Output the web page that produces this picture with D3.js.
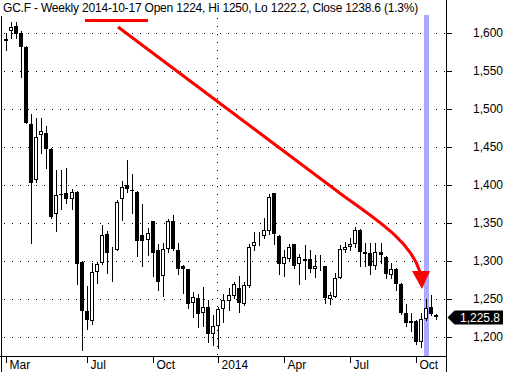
<!DOCTYPE html>
<html>
<head>
<meta charset="utf-8">
<script src="https://cdn.jsdelivr.net/npm/d3@7"></script>
<style>
  body { margin: 0; background: #fff; }
  svg { display: block; font-family: "Liberation Sans", Arial, sans-serif; }
</style>
</head>
<body>
<div id="chart"></div>
<script>
// weekly GC.F candles, Mar 15 2013 .. Oct 31 2014
const open  = [1592,1602,1609,1600,1582,1480,1406,1466,1469,1448,1362,1388,1390,1381,1391,1299,1234,1221,1285,1298,
               1335,1312,1315,1381,1400,1394,1391,1334,1328,1352,1314,1280,1316,1352,1315,1294,1289,1245,1251,1231,
               1239,1204,1215,1237,1248,1254,1265,1244,1267,1320,1326,1333,1340,1389,1333,1296,1303,1322,1296,1303,
               1302,1289,1294,1293,1250,1253,1278,1315,1318,1322,1341,1312,1311,1294,1312,1305,1281,1290,1270,1231,
               1218,1221,1193,1224,1239.5,1229.5];
const high  = [1600,1614,1614,1602,1583,1494,1488,1488,1478,1449,1420,1420,1422,1395,1392,1300,1267,1297,1299,1347,
               1339,1319,1380,1405,1433,1415,1392,1375,1344,1353,1322,1324,1355,1361,1324,1295,1290,1259,1257,1266,
               1249,1229,1240,1257,1264,1272,1280,1272,1322,1338,1338,1356,1388,1390,1334,1314,1322,1323,1309,1321,
               1314,1308,1308,1294,1259,1284,1321,1325,1330,1345,1342,1324,1324,1324,1324,1306,1297,1291,1271,1243,
               1231,1222,1231,1250,1255,1230];
const low   = [1577,1593,1593,1542,1481,1324,1404,1442,1422,1356,1340,1369,1376,1368,1270,1183,1210,1217,1271,1296,
               1284,1274,1314,1354,1391,1363,1306,1293,1308,1280,1262,1254,1312,1314,1283,1258,1238,1226,1213,1215,
               1193,1189,1185,1220,1235,1251,1233,1242,1266,1314,1321,1330,1336,1323,1283,1280,1300,1291,1270,1276,
               1286,1279,1288,1245,1244,1252,1277,1312,1315,1319,1294,1294,1283,1290,1297,1277,1278,1262,1230,1215,
               1208,1191,1187,1222.2,1229,1224];
const close = [1590,1608,1599,1581,1482,1403,1463,1471,1447,1358,1387,1387,1381,1391,1296,1234,1222,1285,1296,1334,
               1311,1313,1378,1398,1395,1393,1326,1326,1337,1311,1272,1316,1352,1316,1289,1290,1244,1252,1230,1239,
               1204,1214,1237,1249,1255,1270,1245,1268,1319,1325,1327,1341,1384,1336,1296,1305,1319,1294,1305,1300,
               1289,1294,1295,1251,1255,1278,1316,1319,1322,1341,1312,1309,1294,1312,1308,1283,1289,1270,1231,1218,
               1221,1193,1224,1238.6,1230,1225.8];

const weeks = d3.utcFriday.range(new Date(Date.UTC(2013, 2, 15)), new Date(Date.UTC(2014, 10, 1)));
const tickDates = ['2013-03-15', '2013-07-05', '2013-10-04', '2014-01-03', '2014-04-04', '2014-07-04', '2014-10-03'];
const tickLabels = ['Mar', 'Jul', 'Oct', '2014', 'Apr', 'Jul', 'Oct'];
const yTicks = [1200, 1250, 1300, 1350, 1400, 1450, 1500, 1550, 1600];
const title = 'GC.F - Weekly 2014-10-17 Open 1224, Hi 1250, Lo 1222.2, Close 1238.6 (1.3%)';
const cursorDate = '2014-10-17';

const width = 508;
const height = 372;
const plot = { left: 1.5, right: 446.5, bottom: 356.5 };

const svg = d3.select('#chart')
  .append('svg')
  .attr('width', width)
  .attr('height', height)
  .attr('shape-rendering', 'crispEdges');

const x = d3.scaleBand()
  .domain(weeks.map(d => +d))
  .range([3.17, 3.17 + weeks.length * 5.065]);

const y = d3.scaleLinear()
  .domain([1200, 1600])
  .range([337, 33]);

const cx = d => Math.round(x(+d) + x.bandwidth() / 2);

// dotted grid
svg.append('g')
  .selectAll('line')
  .data(yTicks)
  .join('line')
    .attr('x1', 4).attr('x2', plot.right - 1)
    .attr('y1', d => y(d) + 0.5).attr('y2', d => y(d) + 0.5)
    .attr('stroke', '#000')
    .attr('stroke-dasharray', '1,7');

const yearLine = cx(new Date('2014-01-03')) - 0.5;
svg.append('line')
  .attr('x1', yearLine).attr('x2', yearLine)
  .attr('y1', 18).attr('y2', plot.bottom)
  .attr('stroke', '#000')
  .attr('stroke-dasharray', '1,7');

// crosshair at the selected week
const cur = cx(new Date(cursorDate));
svg.append('rect')
  .attr('x', cur - 2).attr('y', 15)
  .attr('width', 5).attr('height', plot.bottom - 15)
  .attr('fill', '#a9a9ff');

// frame lines
svg.append('line')
  .attr('x1', plot.left).attr('x2', plot.left)
  .attr('y1', 16).attr('y2', height)
  .attr('stroke', '#000');
svg.append('line')
  .attr('x1', 0).attr('x2', plot.right)
  .attr('y1', plot.bottom).attr('y2', plot.bottom)
  .attr('stroke', '#000');
svg.append('line')
  .attr('x1', plot.right).attr('x2', plot.right)
  .attr('y1', 0).attr('y2', height)
  .attr('stroke', '#000');

// candles
const candles = weeks.map((d, i) => ({ d, o: open[i], h: high[i], l: low[i], c: close[i] }));

const g = svg.append('g');
g.selectAll('line.wick')
  .data(candles)
  .join('line')
    .attr('class', 'wick')
    .attr('x1', d => cx(d.d) + 0.5).attr('x2', d => cx(d.d) + 0.5)
    .attr('y1', d => Math.round(y(d.h))).attr('y2', d => Math.round(y(d.l)) + 1)
    .attr('stroke', '#000');

g.selectAll('rect.down')
  .data(candles.filter(d => d.c < d.o))
  .join('rect')
    .attr('class', 'down')
    .attr('x', d => cx(d.d) - 2)
    .attr('y', d => Math.round(y(d.o)))
    .attr('width', 4)
    .attr('height', d => Math.max(1, Math.round(y(d.c)) - Math.round(y(d.o))))
    .attr('fill', '#000');

g.selectAll('rect.up')
  .data(candles.filter(d => d.c >= d.o))
  .join('rect')
    .attr('class', 'up')
    .attr('x', d => cx(d.d) - 1.5)
    .attr('y', d => Math.round(y(d.c)) + 0.5)
    .attr('width', 3)
    .attr('height', d => Math.max(0, Math.round(y(d.o)) - Math.round(y(d.c)) - 1))
    .attr('fill', '#fff')
    .attr('stroke', '#000');

// right axis
const yAxis = svg.append('g')
  .attr('transform', `translate(${plot.right},0)`)
  .call(d3.axisRight(y).tickValues(yTicks).tickFormat(d3.format(',')).tickSize(5).tickSizeOuter(0))
  .attr('font-size', '12px')
  .attr('font-family', null);
yAxis.select('.domain').remove();
yAxis.selectAll('text')
  .attr('text-anchor', 'end')
  .attr('x', 56.5)
  .attr('fill', '#000');

// bottom axis
const xAxis = svg.append('g')
  .attr('transform', `translate(0,${plot.bottom})`)
  .call(d3.axisBottom(x)
    .tickValues(tickDates.map(s => +new Date(s)))
    .tickFormat((d, i) => tickLabels[i])
    .tickSize(6).tickSizeOuter(0))
  .attr('font-size', '12px')
  .attr('font-family', null);
xAxis.select('.domain').remove();
xAxis.selectAll('.tick').attr('transform', d => `translate(${cx(d) + 0.5},0)`);
xAxis.selectAll('text')
  .attr('text-anchor', 'start')
  .attr('x', 3)
  .attr('y', 12.5)
  .attr('dy', 0)
  .attr('fill', '#000');

// last price tag
const last = close[close.length - 1];
const ty = y(last);
svg.append('path')
  .attr('d', `M${plot.right + 1},${ty} L${plot.right + 8},${ty - 7} L503,${ty - 7} L503,${ty + 7} L${plot.right + 8},${ty + 7} Z`)
  .attr('fill', '#000')
  .attr('shape-rendering', 'auto');
svg.append('text')
  .attr('x', 500)
  .attr('y', ty + 4.5)
  .attr('text-anchor', 'end')
  .attr('font-size', '12px')
  .attr('fill', '#fff')
  .text(d3.format(',.1f')(last));

// title
svg.append('text')
  .attr('x', 3)
  .attr('y', 12)
  .attr('font-size', '12px')
  .attr('letter-spacing', '-0.2px')
  .attr('fill', '#000')
  .text(title);

// red annotation
svg.append('line')
  .attr('x1', 85).attr('x2', 148)
  .attr('y1', 20.5).attr('y2', 20.5)
  .attr('stroke', '#f00')
  .attr('stroke-width', 2.5);

svg.append('path')
  .attr('d', 'M118,27 L345,197 C385,225 412,245 420,272')
  .attr('fill', 'none')
  .attr('stroke', '#f00')
  .attr('stroke-width', 3)
  .attr('shape-rendering', 'auto');
svg.append('path')
  .attr('d', 'M412,271 L430,271 L422,289 Z')
  .attr('fill', '#f00')
  .attr('shape-rendering', 'auto');
</script>
</body>
</html>
